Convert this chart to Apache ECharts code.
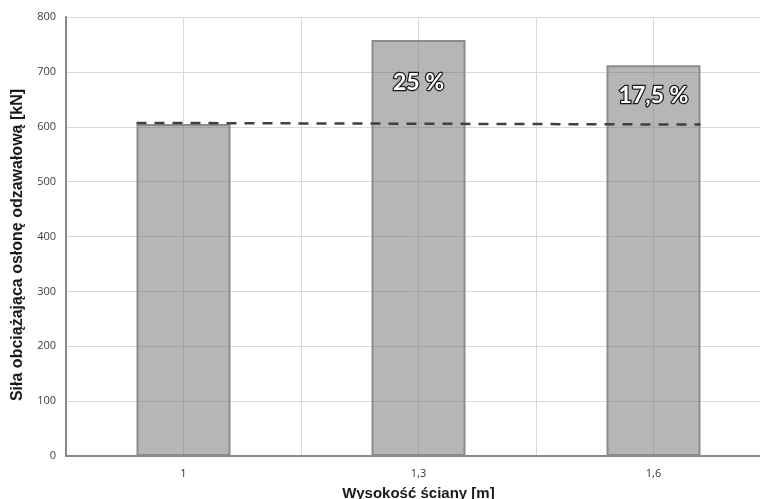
<!DOCTYPE html>
<html>
<head>
<meta charset="utf-8">
<script src="https://cdn.jsdelivr.net/npm/echarts@6/dist/echarts.min.js"></script>
<style>
  html, body { margin: 0; padding: 0; background: #fff; }
  #chart { width: 760px; height: 499px; }
</style>
</head>
<body>
<div id="chart"></div>
<script>
// Wall height categories [m] and the load on the canopy [kN]
const heights = ['1', '1,3', '1,6'];
const forces = [605, 758, 712];
// Percentage increase written inside the taller bars
const increaseLabels = ['', '25 %', '17,5 %'];
// Reference level (dashed line) spanning the bars: [x position on category scale, kN]
const referenceLine = [[0.3, 607], [2.7, 604]];
// Y axis ticks
const yMin = 0, yMax = 800, yStep = 100;

// Vertical drop of each percentage label below its bar top (px)
const labelDrop = [0, 43, 30];

const chart = echarts.init(document.getElementById('chart'));

const barData = forces.map((v, i) => ({
  value: v,
  label: {
    show: increaseLabels[i] !== '',
    formatter: increaseLabels[i],
    position: ['50%', labelDrop[i]],
    align: 'center',
    verticalAlign: 'middle'
  }
}));

chart.setOption({
  animation: false,
  // plot area runs slightly past the right edge of the canvas
  grid: { left: 66, top: 17, width: 705, height: 439, containLabel: false, outerBoundsMode: 'none' },
  xAxis: [
    {
      type: 'category',
      data: heights,
      boundaryGap: true,
      name: 'Wysokość ściany [m]',
      nameLocation: 'middle',
      nameGap: 30,
      nameTextStyle: { fontFamily: 'Liberation Sans', fontWeight: 'bold', fontSize: 15, color: '#1a1a1a' },
      axisLine: { lineStyle: { color: '#8a8a8a', width: 2 } },
      axisTick: { show: false },
      axisLabel: { fontFamily: 'Open Sans', fontSize: 11, color: '#333', margin: 12 },
      splitLine: { show: false }
    },
    {
      // Helper scale for the half-category grid lines and the reference line
      type: 'value',
      position: 'bottom',
      min: 0, max: 3, interval: 0.5,
      axisLine: { show: false },
      axisTick: { show: false },
      axisLabel: { show: false },
      splitLine: { show: true, lineStyle: { color: '#d9d9d9', width: 1 } }
    }
  ],
  yAxis: {
    type: 'value',
    min: yMin, max: yMax, interval: yStep,
    name: 'Siła obciążająca osłonę odzawałową [kN]',
    nameLocation: 'middle',
    nameGap: 40,
    nameTextStyle: { fontFamily: 'Liberation Sans', fontWeight: 'bold', fontSize: 16, color: '#1a1a1a', padding: [0, 17, 0, 0] },
    axisLine: { show: true, lineStyle: { color: '#8a8a8a', width: 2 } },
    axisTick: { show: false },
    axisLabel: { fontFamily: 'Open Sans', fontSize: 11, color: '#404040', margin: 10 },
    splitLine: { show: true, lineStyle: { color: '#d9d9d9', width: 1 } }
  },
  series: [
    {
      type: 'bar',
      xAxisIndex: 0,
      barWidth: '40%',
      data: barData,
      itemStyle: { color: 'rgba(100,100,100,0.47)', borderColor: '#8c8c8c', borderWidth: 2 },
      label: {
        fontFamily: 'Lato',
        fontWeight: 'bold',
        fontSize: 23,
        color: '#ffffff',
        textBorderColor: '#1a1a1a',
        textBorderWidth: 2.5
      },
      z: 2
    },
    {
      type: 'line',
      xAxisIndex: 1,
      data: referenceLine,
      symbol: 'none',
      lineStyle: { color: '#404040', width: 2.5, type: [10, 8] },
      z: 3
    }
  ]
});
</script>
</body>
</html>
